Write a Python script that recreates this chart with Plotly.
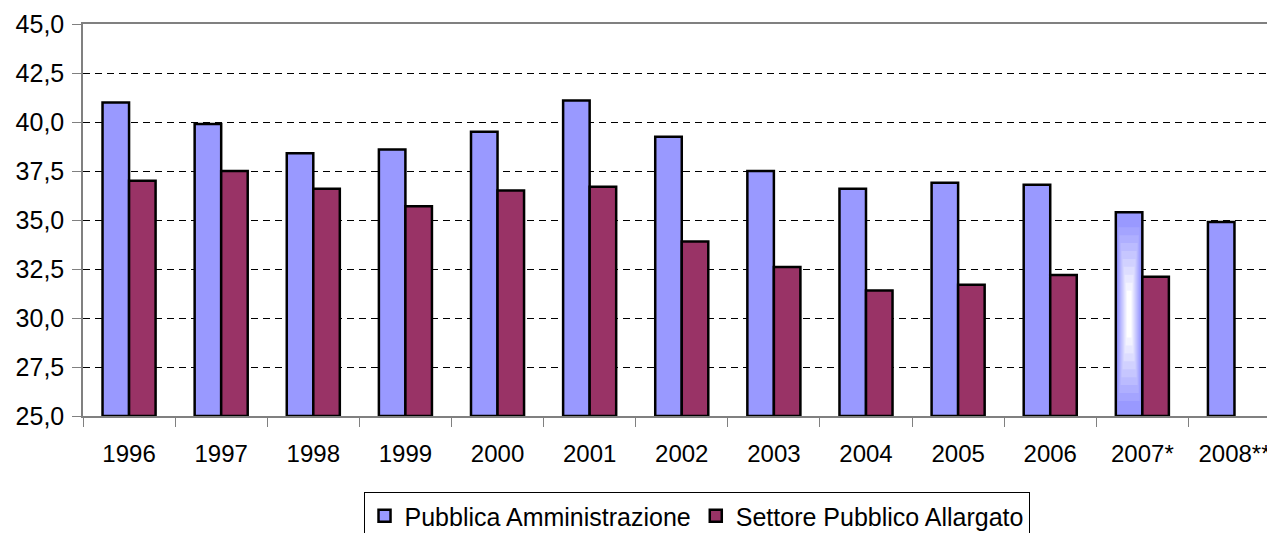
import plotly.graph_objects as go

years = ["1996", "1997", "1998", "1999", "2000", "2001", "2002", "2003",
         "2004", "2005", "2006", "2007*", "2008**"]
pubblica_amm = [41.0, 39.9, 38.4, 38.6, 39.5, 41.1, 39.25, 37.5,
                36.6, 36.9, 36.8, 35.4, 34.9]
settore_pubb = [37.0, 37.5, 36.6, 35.7, 36.5, 36.7, 33.9, 32.6,
                31.4, 31.7, 32.2, 32.1, None]
y_ticks = [25.0, 27.5, 30.0, 32.5, 35.0, 37.5, 40.0, 42.5, 45.0]

C_PA = "#9999FF"
C_SPA = "#993366"
FONT = "Liberation Sans, Arial, sans-serif"
BW = 0.288  # bar width in category units

fig = go.Figure()
fig.add_trace(go.Bar(
    x=years, y=[v - 25 for v in pubblica_amm], base=25,
    name="Pubblica Amministrazione", width=BW, offset=-BW,
    marker=dict(color=C_PA, line=dict(color="black", width=2.5)),
))
fig.add_trace(go.Bar(
    x=years, y=[(v - 25) if v is not None else None for v in settore_pubb], base=25,
    name="Settore Pubblico Allargato", width=BW, offset=0,
    marker=dict(color=C_SPA, line=dict(color="black", width=2.5)),
))

# light gradient decoration on the 2007* Pubblica Amministrazione bar
idx = years.index("2007*")
v = pubblica_amm[idx]
mid = (25 + v) / 2
half = (v - 25) / 2
N = 9
def mix(t):
    r0, g0, b0 = 0x99, 0x99, 0xFF
    return "rgb(%d,%d,%d)" % (r0 + (255 - r0) * t, g0 + (255 - g0) * t, b0 + (255 - b0) * t)
for k in range(1, N + 1):
    t = k / N
    w = (BW - 0.035) * (1 - 0.8 * t)
    h = half * (0.93 - 0.7 * t)
    fig.add_trace(go.Bar(
        x=[years[idx]], y=[2 * h], base=mid - h,
        width=w, offset=-BW / 2 - w / 2,
        marker=dict(color=mix(t), line=dict(width=0)),
        showlegend=False, hoverinfo="skip",
    ))

fig.update_layout(
    width=1275, height=533,
    margin=dict(l=75, r=8, t=16, b=125, autoexpand=False),
    barmode="overlay",
    paper_bgcolor="white", plot_bgcolor="white",
    font=dict(family=FONT, size=25, color="black"),
    separators=",.",
    showlegend=True,
    legend=dict(
        orientation="h", x=0.5147, xanchor="center", y=-0.194, yanchor="top",
        bordercolor="black", borderwidth=1, bgcolor="white",
        font=dict(family=FONT, size=25, color="black"),
        itemwidth=30, tracegroupgap=0, traceorder="normal",
    ),
    xaxis=dict(
        type="category", range=[-0.5, 12.44], automargin=False,
        showline=True, linecolor="#808080", linewidth=1.5, mirror=True,
        ticks="outside", ticklen=9, tickcolor="#808080", tickwidth=1,
        tickson="boundaries", showgrid=False,
        tickfont=dict(family=FONT, size=24, color="black"),
        ticklabelstandoff=15,
    ),
    yaxis=dict(
        range=[25, 45], tickvals=y_ticks, tickformat=".1f", automargin=False,
        showline=True, linecolor="#808080", linewidth=1.5,
        ticks="outside", ticklen=9, tickcolor="#808080", tickwidth=1,
        showgrid=True, gridcolor="black", gridwidth=1, griddash="7px,5px",
        zeroline=False,
        tickfont=dict(family=FONT, size=25, color="black"),
        ticklabelstandoff=3,
    ),
)

fig.write_html("out.html")
